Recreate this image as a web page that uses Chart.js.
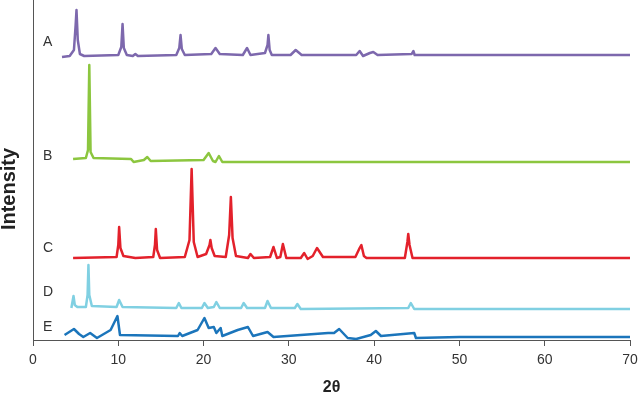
<!DOCTYPE html>
<html>
<head>
<meta charset="utf-8">
<script src="https://cdn.jsdelivr.net/npm/chart.js@4"></script>
<style>
  html, body { margin: 0; padding: 0; background: #fff; }
  #wrap { width: 640px; height: 400px; position: relative; }
</style>
</head>
<body>
<div id="wrap"><canvas id="xrd"></canvas></div>
<script>
// 2-theta positions and intensities (arbitrary units, traces stacked with offsets)
const thetaA = [3.4, 4.3, 4.8, 5.0, 5.1, 5.25, 5.5, 6.0, 10.0, 10.35, 10.5, 10.65, 11.0, 11.7, 12.0, 12.3, 16.8, 17.15, 17.3, 17.45, 17.8, 20.9, 21.4, 21.9, 24.6, 25.1, 25.5, 27.2, 27.5, 27.6, 27.75, 28.0, 30.2, 30.8, 31.5, 37.9, 38.3, 38.7, 39.5, 39.9, 40.4, 44.4, 44.6, 44.75, 70];
const intA   = [283, 284, 290, 315, 330, 300, 286, 284, 285, 293, 316, 292, 285, 284, 286, 284, 285, 292, 305, 291, 285, 286, 292, 286, 285, 292, 285, 287, 295, 305, 290, 285, 285, 290, 285, 285, 289, 284, 287, 288, 285, 286, 289, 285, 285];

const thetaB = [4.7, 6.2, 6.45, 6.6, 6.75, 7.1, 11.5, 11.8, 13.0, 13.4, 13.8, 20.0, 20.6, 21.1, 21.4, 21.8, 22.2, 70];
const intB   = [181, 182, 190, 275, 188, 182, 181, 178, 180, 183, 179, 180, 187, 179, 178, 184, 178, 178];

const thetaC = [4.7, 9.8, 10.0, 10.1, 10.25, 10.6, 12.0, 14.1, 14.3, 14.4, 14.55, 14.9, 17.8, 18.35, 18.6, 18.85, 19.3, 20.3, 20.7, 20.8, 20.95, 21.3, 22.6, 23.0, 23.2, 23.4, 23.8, 25.2, 25.5, 25.9, 27.8, 28.2, 28.6, 29.0, 29.3, 29.7, 31.4, 31.8, 32.2, 32.8, 33.3, 34.0, 37.8, 38.3, 38.5, 38.8, 39.1, 43.6, 43.9, 44.0, 44.15, 44.5, 70];
const intC   = [82, 83, 95, 113, 92, 84, 82, 83, 95, 111, 90, 82, 83, 100, 171, 98, 83, 86, 95, 100, 92, 84, 83, 105, 143, 102, 84, 82, 86, 82, 83, 93, 82, 83, 96, 82, 82, 87, 81, 84, 92, 83, 83, 92, 95, 84, 82, 82, 98, 106, 95, 82, 82];

const thetaD = [4.5, 4.75, 4.9, 5.2, 6.2, 6.4, 6.5, 6.6, 6.9, 9.8, 10.1, 10.5, 16.8, 17.1, 17.4, 19.8, 20.1, 20.5, 21.2, 21.5, 21.9, 24.4, 24.7, 25.1, 27.2, 27.5, 27.9, 30.7, 31.0, 31.4, 44.0, 44.3, 44.7, 70];
const intD   = [32, 44, 35, 33, 33, 45, 75, 45, 34, 33, 40, 33, 32, 37, 32, 32, 37, 32, 33, 38, 32, 32, 37, 32, 32, 39, 32, 32, 36, 31, 32, 37, 31, 31];

const thetaE = [3.7, 4.8, 5.4, 5.9, 6.7, 7.5, 9.1, 9.9, 10.2, 17.0, 17.2, 17.5, 19.3, 20.1, 20.6, 21.2, 21.5, 22.0, 22.2, 24.0, 25.2, 25.8, 27.5, 28.2, 34.6, 35.3, 35.9, 36.9, 37.9, 39.6, 40.2, 40.8, 44.7, 44.9, 50, 70];
const intE   = [5, 11, 6, 3, 7, 2, 10, 24, 5, 4, 7, 4, 10, 22, 12, 13, 7, 12, 4, 10, 13, 4, 8, 3, 7, 7, 11, 2, 1, 5, 9, 4, 7, 2, 3, 3];

const sampleNames = ['A', 'B', 'C', 'D', 'E'];
const xTicks = [0, 10, 20, 30, 40, 50, 60, 70];

const colors = ['#7d68ad', '#8cc63f', '#e3212b', '#80d0e2', '#1b75bb'];
const labelLevels = [298, 184, 92, 48, 13]; // where each letter sits on the intensity axis

function pts(xs, ys){
  return xs.map((x, i) => ({x: x, y: ys[i]}));
}

const series = [pts(thetaA, intA), pts(thetaB, intB), pts(thetaC, intC), pts(thetaD, intD), pts(thetaE, intE)];

const FONT = '"Liberation Sans", Arial, Helvetica, sans-serif';

// letters next to each trace + the rotated y title
const labelsPlugin = {
  id: 'traceLabels',
  afterDraw(chart){
    const ctx = chart.ctx;
    const xs = chart.scales.x, ys = chart.scales.y;
    ctx.save();
    ctx.fillStyle = '#333';
    ctx.font = '14px ' + FONT;
    ctx.textAlign = 'left';
    ctx.textBaseline = 'middle';
    sampleNames.forEach((n, i) => {
      ctx.fillText(n, xs.getPixelForValue(0) + 10, ys.getPixelForValue(labelLevels[i]));
    });
    ctx.translate(9, 189);
    ctx.rotate(-Math.PI / 2);
    ctx.textAlign = 'center';
    ctx.fillStyle = '#222';
    ctx.font = 'bold 20px ' + FONT;
    ctx.fillText('Intensity', 0, 0);
    ctx.restore();
  }
};

new Chart(document.getElementById('xrd').getContext('2d'), {
  type: 'line',
  data: {
    datasets: series.map((d, i) => ({
      label: sampleNames[i],
      data: d,
      borderColor: colors[i],
      borderWidth: 2.5,
      borderJoinStyle: 'round',
      pointRadius: 0,
      tension: 0,
      fill: false
    }))
  },
  options: {
    responsive: true,
    maintainAspectRatio: false,
    animation: false,
    layout: { padding: { right: 10, top: 0, left: 0, bottom: 0 } },
    plugins: { legend: { display: false }, tooltip: { enabled: false } },
    scales: {
      x: {
        type: 'linear',
        min: 0, max: 70,
        afterBuildTicks: s => { s.ticks = xTicks.map(v => ({value: v})); },
        afterFit: s => { s.height = 60; s.paddingRight = 0; s.paddingLeft = 0; },
        grid: { display: true, drawOnChartArea: false, drawTicks: true, tickLength: 6, color: '#555', lineWidth: 1 },
        border: { display: true, color: '#555', width: 1 },
        ticks: { color: '#333', padding: 6, font: { family: FONT, size: 14 }, maxRotation: 0 },
        title: { display: true, text: '2θ', color: '#222', font: { family: FONT, size: 16, weight: 'bold' }, padding: { top: 0, bottom: 3 } }
      },
      y: {
        min: 0, max: 340,
        afterFit: s => { s.width = 33; },
        grid: { display: false },
        border: { display: true, color: '#555', width: 1 },
        ticks: { display: false }
      }
    }
  },
  plugins: [labelsPlugin]
});
</script>
</body>
</html>
